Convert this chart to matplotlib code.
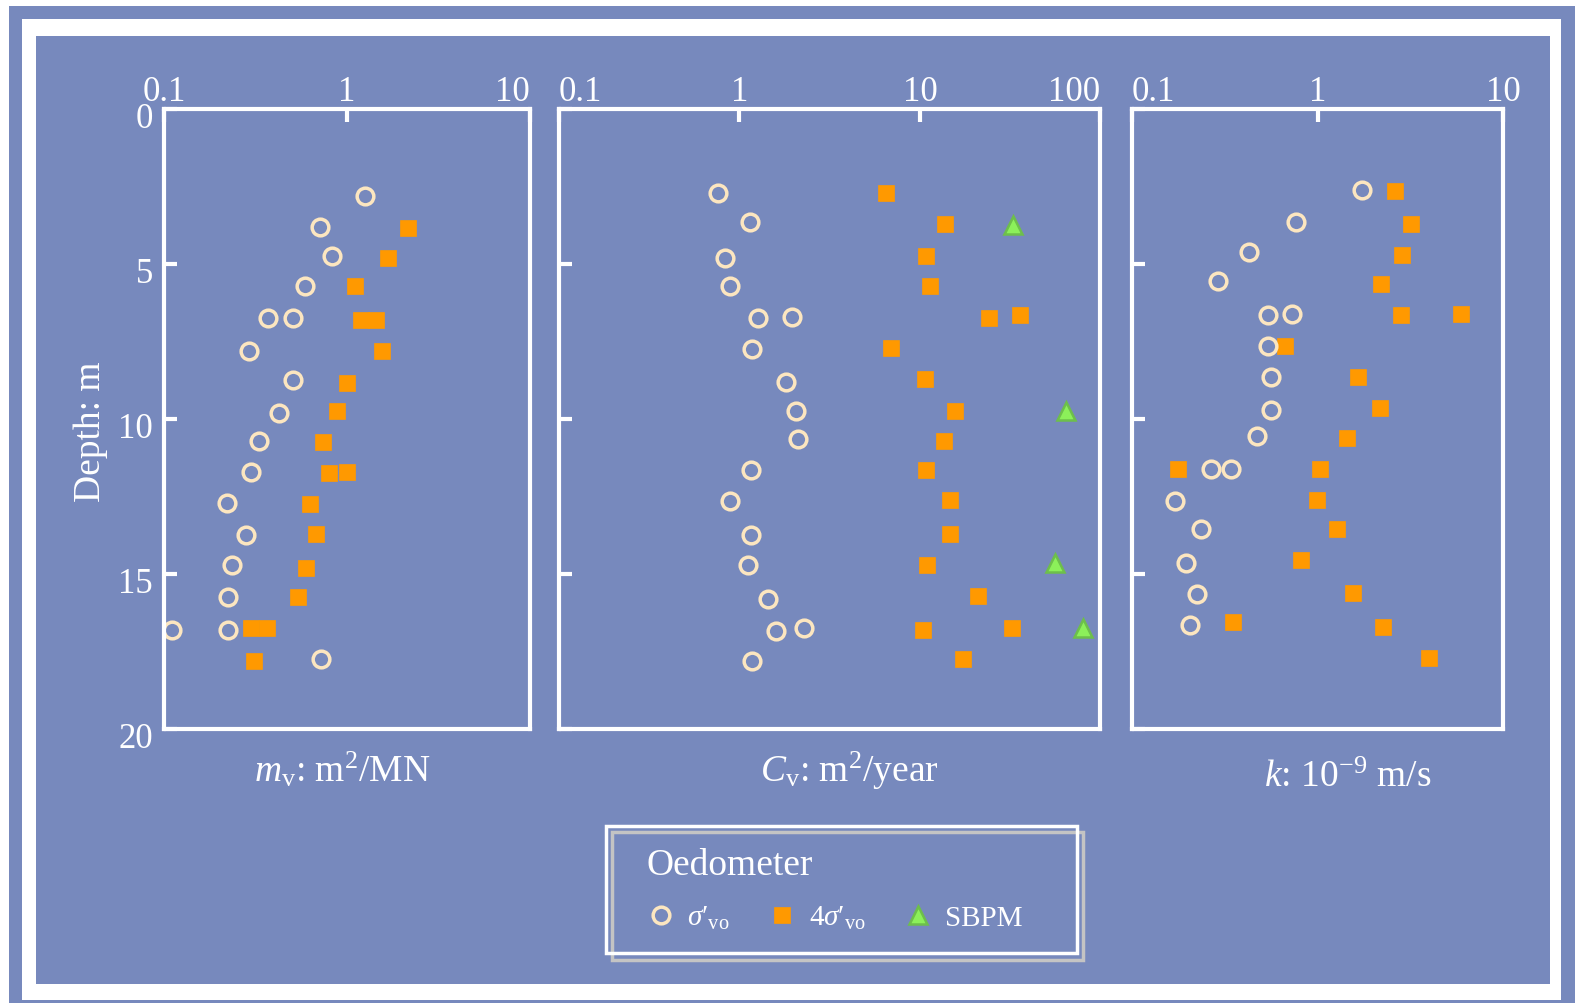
import matplotlib
matplotlib.use('Agg')
import matplotlib.pyplot as plt
from matplotlib.patches import Rectangle
from matplotlib.ticker import FixedLocator, NullLocator
from matplotlib.transforms import ScaledTranslation

plt.rcParams['font.family'] = ['Liberation Serif', 'DejaVu Serif']
plt.rcParams['mathtext.fontset'] = 'custom'
plt.rcParams['mathtext.rm'] = 'Liberation Serif'
plt.rcParams['mathtext.it'] = 'Liberation Serif:italic'
plt.rcParams['mathtext.bf'] = 'Liberation Serif:bold'

# --- data (depth in m) ---
# m_v, m2/MN
mv_sig_depth = [2.8, 3.8, 4.75, 5.7, 6.75, 6.75, 7.8, 8.75, 9.8, 10.7, 11.7, 12.7,
                13.75, 14.7, 15.75, 16.8, 16.8, 17.75]
mv_sig = [1.25, 0.71, 0.83, 0.59, 0.37, 0.51, 0.29, 0.51, 0.425, 0.33, 0.30, 0.22,
          0.28, 0.235, 0.225, 0.11, 0.225, 0.72]
mv_4sig_depth = [3.85, 4.8, 5.7, 6.8, 6.8, 7.8, 8.85, 9.75, 10.75, 11.75, 11.7, 12.75,
                 13.7, 14.8, 15.75, 16.75, 16.75, 17.8]
mv_4sig = [2.15, 1.68, 1.10, 1.20, 1.44, 1.56, 1.0, 0.885, 0.74, 0.80, 1.0, 0.63,
           0.68, 0.60, 0.54, 0.30, 0.365, 0.31]

# C_v, m2/year
cv_sig_depth = [2.7, 3.65, 4.8, 5.7, 6.75, 6.7, 7.75, 8.8, 9.75, 10.65, 11.65, 12.65,
                13.75, 14.7, 15.8, 16.85, 16.75, 17.8]
cv_sig = [0.76, 1.15, 0.83, 0.89, 1.27, 1.95, 1.18, 1.82, 2.06, 2.10, 1.16, 0.89,
          1.16, 1.12, 1.44, 1.60, 2.29, 1.18]
cv_4sig_depth = [2.7, 3.7, 4.75, 5.7, 6.75, 6.65, 7.7, 8.7, 9.75, 10.7, 11.65, 12.6,
                 13.7, 14.7, 15.7, 16.8, 16.75, 17.75]
cv_4sig = [6.5, 13.8, 10.8, 11.4, 24.0, 35.6, 6.9, 10.6, 15.6, 13.6, 10.8, 14.6,
           14.6, 11.0, 20.9, 10.4, 32.2, 17.2]
cv_sbpm_depth = [3.75, 9.75, 14.65, 16.75]
cv_sbpm = [32.7, 64.0, 56.0, 80.0]

# k, 1e-9 m/s
k_sig_depth = [2.6, 3.65, 4.6, 5.55, 6.65, 6.6, 7.65, 8.65, 9.7, 10.55, 11.6, 11.6,
               12.65, 13.55, 14.65, 15.65, 16.65]
k_sig = [1.74, 0.77, 0.425, 0.29, 0.54, 0.73, 0.54, 0.56, 0.56, 0.47, 0.265, 0.34,
         0.17, 0.235, 0.195, 0.225, 0.205]
k_4sig_depth = [2.65, 3.7, 4.7, 5.65, 6.65, 6.6, 7.65, 8.65, 9.65, 10.6, 11.6, 11.6,
                12.6, 13.55, 14.55, 15.6, 16.55, 16.7, 17.7]
k_4sig = [2.63, 3.18, 2.87, 2.21, 2.82, 5.94, 0.67, 1.65, 2.17, 1.44, 0.176, 1.03,
          0.99, 1.27, 0.81, 1.56, 0.35, 2.25, 3.99]

xticks_2dec = [0.1, 1, 10]
xticks_3dec = [0.1, 1, 10, 100]
depth_ticks = [0, 5, 10, 15, 20]

W, H = 1575, 1004
bg = '#7789bd'
cream = '#fce6c0'
orange = '#ff9900'
green = '#8cf05a'
green_edge = '#6dbf4b'

fig = plt.figure(figsize=(W / 100, H / 100), dpi=100, facecolor='white')


def px_rect(x0, y0, x1, y1, **kw):
    # rectangle in pixels, measured from the top left corner
    r = Rectangle((x0 / W, 1 - y1 / H), (x1 - x0) / W, (y1 - y0) / H,
                  transform=fig.transFigure, **kw)
    fig.add_artist(r)
    return r


# slide-like frame
px_rect(9, 7, W + 5, H + 5, facecolor=bg, edgecolor='none', zorder=-3)
px_rect(22, 20, 1561, 1001, facecolor='white', edgecolor='none', zorder=-2)
px_rect(36, 37, 1550, 985, facecolor=bg, edgecolor='none', zorder=-1)

panels = [(164, 530), (559, 1100.5), (1132, 1503)]
top, bottom = 110, 730
axes = []
for x0, x1 in panels:
    ax = fig.add_axes([x0 / W, 1 - bottom / H, (x1 - x0) / W, (bottom - top) / H])
    ax.set_facecolor('none')
    for s in ax.spines.values():
        s.set_color('white')
        s.set_linewidth(3)
    ax.set_xscale('log')
    ax.set_ylim(20, 0)
    ax.xaxis.tick_top()
    ax.yaxis.set_major_locator(FixedLocator(depth_ticks))
    ax.xaxis.set_minor_locator(NullLocator())
    ax.tick_params(which='major', direction='in', length=9, width=3, color='white',
                   labelcolor='white', labelsize=25)
    ax.tick_params(axis='x', pad=1)
    ax.tick_params(axis='y', pad=8)
    axes.append(ax)

ax1, ax2, ax3 = axes
ms_c = dict(ls='none', marker='o', ms=12, mfc='none', mec=cream, mew=2.5)
ms_s = dict(ls='none', marker='s', ms=12, mfc=orange, mec=orange, mew=0.5)
ms_t = dict(ls='none', marker='^', ms=13, mfc=green, mec=green_edge, mew=1.8)

ax1.plot(mv_4sig, mv_4sig_depth, **ms_s)
ax1.plot(mv_sig, mv_sig_depth, **ms_c)
ax1.set_xlim(0.1, 10)
ax1.set_xticks(xticks_2dec, ['0.1', '1', '10'])

hs, = ax2.plot(cv_4sig, cv_4sig_depth, **ms_s)
hc, = ax2.plot(cv_sig, cv_sig_depth, **ms_c)
ht, = ax2.plot(cv_sbpm, cv_sbpm_depth, **ms_t)
ax2.set_xlim(0.1, 100)
ax2.set_xticks(xticks_3dec, ['0.1', '1', '10', '100'])

ax3.plot(k_4sig, k_4sig_depth, **ms_s)
ax3.plot(k_sig, k_sig_depth, **ms_c)
ax3.set_xlim(0.1, 10)
ax3.set_xticks(xticks_2dec, ['0.1', '1', '10'])

ax1.set_yticks(depth_ticks, [str(d) for d in depth_ticks])
ax2.tick_params(axis='y', labelleft=False)
ax3.tick_params(axis='y', labelleft=False)

# label nudges to sit like the original
ax1.xaxis.get_major_ticks()[-1].label2.set_ha('right')
ax2.xaxis.get_major_ticks()[-1].label2.set_ha('right')
ax2.xaxis.get_major_ticks()[0].label2.set_ha('left')
ax3.xaxis.get_major_ticks()[0].label2.set_ha('left')
down = ScaledTranslation(0, -0.06, fig.dpi_scale_trans)
for t in ax1.yaxis.get_major_ticks():
    t.label1.set_transform(t.label1.get_transform() + down)

lab = dict(ha='center', va='baseline', fontsize=27, color='white')
ax1.text(0.488, -0.084, r'$m_{\mathrm{v}}$: m$^2$/MN', transform=ax1.transAxes, **lab)
ax2.text(0.537, -0.084, r'$C_{\mathrm{v}}$: m$^2$/year', transform=ax2.transAxes, **lab)
ax3.text(0.581, -0.092, r'$k$: 10$^{-9}$ m/s', transform=ax3.transAxes, **lab)
fig.text(91 / W, 1 - 432 / H, 'Depth: m', rotation=90, ha='center', va='center',
         fontsize=27, color='white')

# legend with a double frame
leg = fig.legend(handles=[hc, hs, ht],
                 labels=[r'$\sigma$′$_{\mathrm{vo}}$',
                         r'4$\sigma$′$_{\mathrm{vo}}$', 'SBPM'],
                 title='Oedometer', ncol=3, loc='upper left',
                 bbox_to_anchor=(632 / W, 1 - 834 / H), bbox_transform=fig.transFigure,
                 frameon=False, fontsize=21, title_fontsize=27, alignment='left',
                 handlelength=1.0, handletextpad=0.4, columnspacing=1.3,
                 borderpad=0, labelspacing=0.75, labelcolor='white')
leg.get_title().set_color('white')
px_rect(612, 833, 1083, 961, fill=False, edgecolor='#c4c4c4', lw=2.5, zorder=1)
px_rect(606, 827, 1077, 954, fill=False, edgecolor='white', lw=2.5, zorder=2)

fig.savefig('out.png', dpi=100, facecolor=fig.get_facecolor())
